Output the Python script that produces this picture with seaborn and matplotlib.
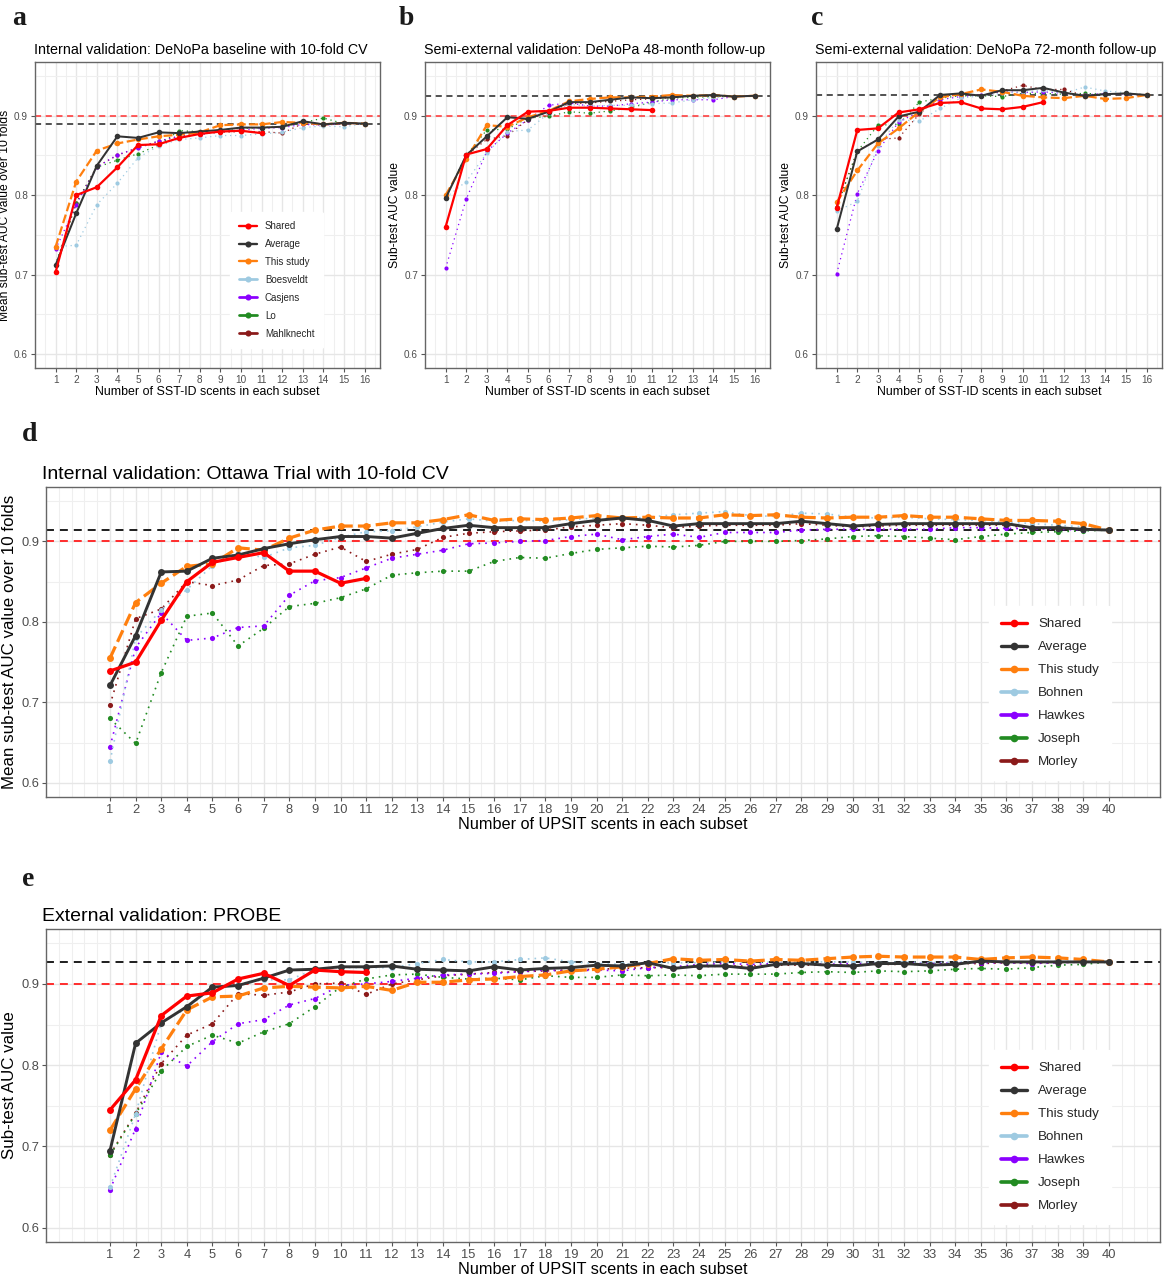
import numpy as np
import pandas as pd
import matplotlib
matplotlib.use("Agg")
import matplotlib.pyplot as plt
from matplotlib.lines import Line2D
import seaborn as sns

# ---------------- data ----------------
x16 = list(range(1, 17))
x40 = list(range(1, 41))
x11 = list(range(1, 12))

sst_names = ["Shared", "Average", "This study", "Boesveldt", "Casjens", "Lo", "Mahlknecht"]
upsit_names = ["Shared", "Average", "This study", "Bohnen", "Hawkes", "Joseph", "Morley"]

a_shared = [0.703, 0.800, 0.810, 0.835, 0.863, 0.864, 0.872, 0.877, 0.880, 0.881, 0.878]
a_average = [0.712, 0.777, 0.837, 0.874, 0.872, 0.879, 0.878, 0.880, 0.882, 0.885, 0.885, 0.886, 0.893, 0.889, 0.891, 0.890]
a_this = [0.735, 0.817, 0.856, 0.865, 0.870, 0.874, 0.876, 0.879, 0.888, 0.889, 0.889, 0.892, 0.891, 0.889, 0.891, 0.890]
a_boes = [0.735, 0.737, 0.788, 0.815, 0.847, 0.862, 0.870, 0.872, 0.875, 0.875, 0.877, 0.879, 0.885, 0.887, 0.886, 0.890]
a_casj = [0.732, 0.788, 0.835, 0.851, 0.859, 0.868, 0.874, 0.876, 0.880, 0.882, 0.884, 0.885, 0.889, 0.888, 0.890, 0.890]
a_lo = [0.712, 0.790, 0.835, 0.844, 0.852, 0.863, 0.881, 0.880, 0.882, 0.884, 0.885, 0.886, 0.891, 0.897, 0.890, 0.890]
a_mahl = [0.712, 0.790, 0.836, 0.850, 0.860, 0.868, 0.874, 0.877, 0.879, 0.880, 0.880, 0.878, 0.890, 0.888, 0.890, 0.890]

b_shared = [0.760, 0.851, 0.858, 0.888, 0.905, 0.906, 0.910, 0.910, 0.909, 0.908, 0.907]
b_average = [0.796, 0.850, 0.874, 0.898, 0.896, 0.905, 0.917, 0.917, 0.920, 0.923, 0.922, 0.923, 0.925, 0.926, 0.924, 0.925]
b_this = [0.800, 0.845, 0.888, 0.886, 0.898, 0.906, 0.918, 0.921, 0.923, 0.923, 0.924, 0.926, 0.925, 0.926, 0.924, 0.925]
b_boes = [0.797, 0.817, 0.853, 0.880, 0.882, 0.903, 0.914, 0.912, 0.913, 0.913, 0.915, 0.916, 0.920, 0.923, 0.924, 0.925]
b_casj = [0.708, 0.795, 0.855, 0.878, 0.895, 0.913, 0.916, 0.912, 0.912, 0.915, 0.917, 0.920, 0.920, 0.920, 0.924, 0.925]
b_lo = [0.797, 0.850, 0.882, 0.883, 0.897, 0.899, 0.905, 0.903, 0.906, 0.910, 0.917, 0.922, 0.923, 0.924, 0.924, 0.925]
b_mahl = [0.797, 0.850, 0.870, 0.875, 0.895, 0.905, 0.915, 0.916, 0.918, 0.920, 0.921, 0.923, 0.925, 0.925, 0.924, 0.925]

c_shared = [0.784, 0.882, 0.884, 0.904, 0.908, 0.916, 0.917, 0.909, 0.908, 0.911, 0.917]
c_average = [0.757, 0.855, 0.870, 0.899, 0.905, 0.926, 0.928, 0.925, 0.932, 0.932, 0.935, 0.929, 0.925, 0.927, 0.928, 0.926]
c_this = [0.791, 0.831, 0.865, 0.884, 0.905, 0.923, 0.927, 0.933, 0.930, 0.925, 0.923, 0.922, 0.925, 0.921, 0.922, 0.926]
c_boes = [0.780, 0.792, 0.862, 0.895, 0.893, 0.909, 0.922, 0.925, 0.928, 0.930, 0.932, 0.928, 0.936, 0.931, 0.929, 0.926]
c_casj = [0.701, 0.802, 0.856, 0.892, 0.905, 0.920, 0.924, 0.926, 0.930, 0.929, 0.930, 0.928, 0.926, 0.928, 0.927, 0.926]
c_lo = [0.785, 0.855, 0.888, 0.889, 0.917, 0.922, 0.925, 0.925, 0.924, 0.928, 0.928, 0.927, 0.928, 0.927, 0.928, 0.926]
c_mahl = [0.785, 0.856, 0.870, 0.872, 0.902, 0.924, 0.927, 0.925, 0.931, 0.938, 0.933, 0.933, 0.925, 0.927, 0.928, 0.926]

d_shared = [0.739, 0.750, 0.802, 0.850, 0.874, 0.880, 0.886, 0.863, 0.863, 0.848, 0.854]
d_average = [0.721, 0.783, 0.862, 0.863, 0.879, 0.883, 0.891, 0.897, 0.902, 0.906,
             0.906, 0.904, 0.910, 0.916, 0.920, 0.917, 0.917, 0.917, 0.922, 0.926,
             0.929, 0.926, 0.919, 0.922, 0.922, 0.922, 0.922, 0.925, 0.922, 0.919,
             0.921, 0.922, 0.922, 0.922, 0.922, 0.922, 0.917, 0.917, 0.915, 0.914]
d_this = [0.755, 0.824, 0.848, 0.869, 0.872, 0.892, 0.889, 0.904, 0.914, 0.919,
          0.919, 0.923, 0.923, 0.927, 0.933, 0.926, 0.928, 0.927, 0.929, 0.932,
          0.929, 0.930, 0.929, 0.929, 0.933, 0.932, 0.933, 0.930, 0.929, 0.930,
          0.930, 0.932, 0.930, 0.930, 0.928, 0.926, 0.926, 0.925, 0.922, 0.914]
d_bohnen = [0.627, 0.780, 0.815, 0.840, 0.870, 0.886, 0.880, 0.892, 0.895, 0.905,
            0.912, 0.913, 0.918, 0.924, 0.928, 0.925, 0.926, 0.925, 0.927, 0.929,
            0.928, 0.930, 0.933, 0.935, 0.937, 0.932, 0.931, 0.935, 0.934, 0.930,
            0.929, 0.930, 0.928, 0.927, 0.926, 0.924, 0.922, 0.920, 0.918, 0.914]
d_hawkes = [0.645, 0.768, 0.811, 0.777, 0.780, 0.793, 0.795, 0.833, 0.851, 0.855,
            0.867, 0.879, 0.884, 0.889, 0.897, 0.898, 0.900, 0.901, 0.906, 0.909,
            0.902, 0.906, 0.909, 0.905, 0.911, 0.911, 0.911, 0.914, 0.915, 0.915,
            0.915, 0.915, 0.915, 0.917, 0.917, 0.916, 0.916, 0.915, 0.914, 0.914]
d_joseph = [0.680, 0.649, 0.737, 0.807, 0.811, 0.770, 0.792, 0.819, 0.823, 0.830,
            0.841, 0.858, 0.861, 0.863, 0.863, 0.875, 0.880, 0.879, 0.885, 0.890,
            0.892, 0.894, 0.893, 0.895, 0.900, 0.900, 0.900, 0.901, 0.903, 0.906,
            0.907, 0.906, 0.904, 0.902, 0.906, 0.909, 0.911, 0.912, 0.913, 0.914]
d_morley = [0.697, 0.804, 0.816, 0.850, 0.845, 0.852, 0.870, 0.872, 0.884, 0.893,
            0.875, 0.884, 0.890, 0.905, 0.910, 0.912, 0.913, 0.914, 0.918, 0.920,
            0.922, 0.920, 0.917, 0.919, 0.920, 0.920, 0.920, 0.922, 0.920, 0.918,
            0.919, 0.920, 0.920, 0.920, 0.920, 0.920, 0.916, 0.916, 0.915, 0.914]

e_shared = [0.745, 0.782, 0.861, 0.885, 0.889, 0.906, 0.913, 0.898, 0.917, 0.915, 0.914]
e_average = [0.695, 0.827, 0.852, 0.872, 0.896, 0.898, 0.907, 0.917, 0.918, 0.921,
             0.921, 0.922, 0.918, 0.917, 0.916, 0.921, 0.917, 0.919, 0.920, 0.923,
             0.922, 0.926, 0.919, 0.922, 0.922, 0.919, 0.924, 0.925, 0.923, 0.922,
             0.925, 0.925, 0.923, 0.924, 0.928, 0.927, 0.927, 0.927, 0.927, 0.927]
e_this = [0.720, 0.771, 0.820, 0.868, 0.884, 0.885, 0.895, 0.897, 0.896, 0.895,
          0.897, 0.892, 0.902, 0.902, 0.905, 0.906, 0.909, 0.911, 0.916, 0.918,
          0.921, 0.925, 0.931, 0.929, 0.930, 0.928, 0.930, 0.929, 0.931, 0.933,
          0.934, 0.933, 0.933, 0.933, 0.930, 0.932, 0.933, 0.932, 0.930, 0.927]
e_bohnen = [0.650, 0.740, 0.852, 0.870, 0.895, 0.900, 0.905, 0.905, 0.918, 0.920,
            0.920, 0.920, 0.925, 0.930, 0.927, 0.927, 0.930, 0.932, 0.927, 0.925,
            0.924, 0.926, 0.926, 0.926, 0.927, 0.926, 0.927, 0.927, 0.927, 0.927,
            0.926, 0.927, 0.926, 0.927, 0.928, 0.927, 0.927, 0.928, 0.927, 0.927]
e_hawkes = [0.647, 0.722, 0.816, 0.799, 0.829, 0.851, 0.856, 0.874, 0.882, 0.898,
            0.900, 0.903, 0.907, 0.911, 0.912, 0.913, 0.915, 0.917, 0.916, 0.917,
            0.916, 0.920, 0.921, 0.924, 0.925, 0.924, 0.925, 0.925, 0.924, 0.925,
            0.925, 0.926, 0.925, 0.926, 0.926, 0.926, 0.925, 0.926, 0.927, 0.927]
e_joseph = [0.689, 0.740, 0.793, 0.823, 0.837, 0.827, 0.841, 0.851, 0.872, 0.896,
            0.906, 0.911, 0.912, 0.908, 0.906, 0.907, 0.905, 0.910, 0.908, 0.908,
            0.911, 0.910, 0.911, 0.910, 0.912, 0.912, 0.912, 0.914, 0.915, 0.914,
            0.916, 0.915, 0.916, 0.918, 0.919, 0.918, 0.920, 0.923, 0.924, 0.927]
e_morley = [0.690, 0.741, 0.802, 0.837, 0.851, 0.888, 0.886, 0.890, 0.900, 0.901,
            0.887, 0.900, 0.905, 0.910, 0.912, 0.914, 0.915, 0.916, 0.917, 0.918,
            0.919, 0.920, 0.920, 0.921, 0.922, 0.922, 0.923, 0.923, 0.923, 0.923,
            0.924, 0.924, 0.924, 0.925, 0.925, 0.926, 0.926, 0.926, 0.927, 0.927]

titles = ["Internal validation: DeNoPa baseline with 10-fold CV",
          "Semi-external validation: DeNoPa 48-month follow-up",
          "Semi-external validation: DeNoPa 72-month follow-up",
          "Internal validation: Ottawa Trial with 10-fold CV",
          "External validation: PROBE"]
ylabels = ["Mean sub-test AUC value over 10 folds", "Sub-test AUC value", "Sub-test AUC value",
           "Mean sub-test AUC value over 10 folds", "Sub-test AUC value"]
xlabels = ["Number of SST-ID scents in each subset"] * 3 + ["Number of UPSIT scents in each subset"] * 2
letters = ["a", "b", "c", "d", "e"]

# ---------------- style ----------------
sns.set_theme(style="white")
plt.rcParams['font.family'] = ['Liberation Sans', 'DejaVu Sans']

colors = ["#FF0000", "#333333", "#FF7F0E", "#9ECAE1", "#8B00FF", "#228B22", "#8B1A1A"]

W, H = 1165, 1280
fig = plt.figure(figsize=(W / 100, H / 100), dpi=100)


def rect(l, t, r, b):
    return [l / W, 1 - b / H, (r - l) / W, (b - t) / H]


def draw_panel(ax, names, series_x, series_y, big, legend_anchor):
    if big:
        lw_main, lw_avg, lw_this, lw_dot = 2.3, 2.1, 2.3, 1.2
        ms_main, ms_dot = 5.0, 3.7
    else:
        lw_main, lw_avg, lw_this, lw_dot = 1.6, 1.45, 1.6, 0.9
        ms_main, ms_dot = 4.0, 3.0
    order = [6, 5, 4, 3, 2, 1, 0]
    handles = {}
    for i in order:
        df = pd.DataFrame({"n": series_x[i], "auc": series_y[i]})
        if i == 0:
            kw = dict(linestyle="-", linewidth=lw_main, markersize=ms_main)
        elif i == 1:
            kw = dict(linestyle="-", linewidth=lw_avg, markersize=ms_main)
        elif i == 2:
            kw = dict(linestyle=(0, (4.0, 1.6)), linewidth=lw_this, markersize=ms_main)
        else:
            kw = dict(linestyle=(0, (1, 3)), linewidth=lw_dot, markersize=ms_dot)
        sns.lineplot(data=df, x="n", y="auc", ax=ax, color=colors[i], marker="o",
                     markeredgewidth=0, zorder=(13 - i if i < 3 else 4),
                     legend=False, **kw)
        handles[i] = Line2D([], [], color=colors[i], marker="o", markeredgewidth=0,
                            linestyle="-", linewidth=(lw_main * 1.05 if i < 3 else lw_dot * 2.2),
                            markersize=ms_main * 1.1)
    final = series_y[1][-1]
    s = 1.3 if big else 1.0
    ax.axhline(0.9, color="#FF3030", linestyle=(0, (4, 3)), linewidth=1.1 * s, zorder=2)
    ax.axhline(final, color="#222222", linestyle=(0, (4, 3)), linewidth=1.1 * s, zorder=2)
    leg = ax.legend([handles[i] for i in range(7)], names, loc="center",
                    bbox_to_anchor=legend_anchor, frameon=True, facecolor="white",
                    edgecolor="white", framealpha=1.0,
                    fontsize=(9.6 if big else 7.0), handlelength=(2.0 if big else 1.9),
                    labelspacing=(0.8 if big else 0.82), borderpad=0.9,
                    handletextpad=0.8)
    leg.set_zorder(20)


def style_axes(ax, big, nmax, xlim):
    ax.set_ylim(0.5825, 0.9675)
    ax.set_xlim(*xlim)
    ax.set_xticks(range(1, nmax + 1))
    ax.set_xticks(np.arange(np.floor(xlim[0] * 2) / 2, xlim[1], 0.5), minor=True)
    ax.set_yticks([0.6, 0.7, 0.8, 0.9])
    ax.set_yticklabels(["0.6", "0.7", "0.8", "0.9"])
    ax.set_yticks([0.65, 0.75, 0.85, 0.95], minor=True)
    ax.grid(which="major", color="#E6E6E6", linewidth=1.0, zorder=0)
    ax.grid(which="minor", color="#EFEFEF", linewidth=0.8, zorder=0)
    ax.set_axisbelow(True)
    for sp in ax.spines.values():
        sp.set_color("#666666")
        sp.set_linewidth(1.0)
    fs = 9.3 if big else 7.2
    ax.tick_params(axis="both", which="major", labelsize=fs, labelcolor="#4D4D4D",
                   length=3, width=0.8, color="#555555", pad=2, bottom=True, left=True)
    ax.tick_params(axis="both", which="minor", length=0)


panels = [
    (rect(35, 62, 380, 368), [a_shared, a_average, a_this, a_boes, a_casj, a_lo, a_mahl], 16, False, (0.70, 0.288)),
    (rect(425, 62, 770, 368), [b_shared, b_average, b_this, b_boes, b_casj, b_lo, b_mahl], 16, False, None),
    (rect(816, 62, 1162, 368), [c_shared, c_average, c_this, c_boes, c_casj, c_lo, c_mahl], 16, False, None),
    (rect(46, 487, 1160, 797), [d_shared, d_average, d_this, d_bohnen, d_hawkes, d_joseph, d_morley], 40, True, (0.901, 0.335)),
    (rect(46, 929, 1160, 1242), [e_shared, e_average, e_this, e_bohnen, e_hawkes, e_joseph, e_morley], 40, True, (0.901, 0.335)),
]

for k, (r, ys, nmax, big, anchor) in enumerate(panels):
    ax = fig.add_axes(r)
    names = sst_names if nmax == 16 else upsit_names
    xs = [x11] + [x16 if nmax == 16 else x40] * 6
    draw_panel(ax, names, xs, ys, big, anchor if anchor else (0.7, 0.3))
    if anchor is None:
        ax.get_legend().remove()
    xlim = (0.25, 16.75) if nmax == 16 else (-1.1, 42.0)
    style_axes(ax, big, nmax, xlim)
    ax.set_title(titles[k], loc="left", fontsize=(14.0 if big else 10.3), color="black",
                 pad=(6 if big else 6), x=-0.004)
    ax.set_xlabel(xlabels[k], fontsize=(11.7 if big else 8.9), color="black", labelpad=1)
    ax.set_ylabel(ylabels[k], fontsize=(12.2 if big else 8.7), color="black", labelpad=(3 if big else 2))

# panel letters
letter_pos = [(12, 25), (399, 25), (811, 25), (22, 441), (22, 886)]
for lt, (px, py) in zip(letters, letter_pos):
    fig.text(px / W, 1 - py / H, lt, fontsize=20, fontweight="bold",
             family=["Liberation Serif", "DejaVu Serif"], color="#1a1a1a", ha="left", va="baseline")

fig.savefig("out.png", dpi=100, facecolor="white")
